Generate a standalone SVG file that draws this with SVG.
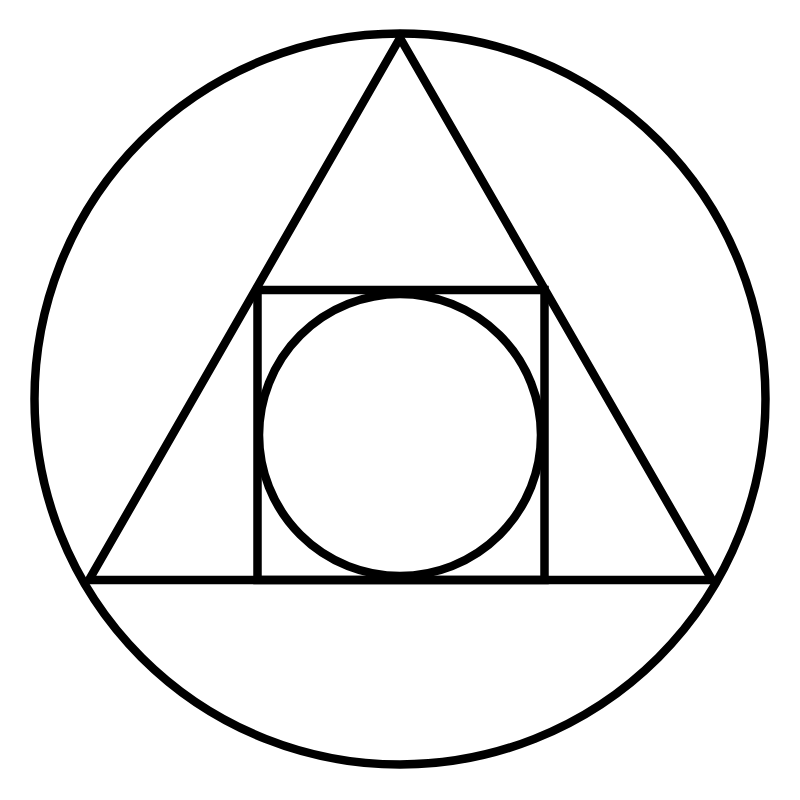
<svg xmlns="http://www.w3.org/2000/svg" width="800" height="800" viewBox="0 0 800 800">
<style>.s{fill:none;stroke:#000;stroke-width:8.5;stroke-linejoin:miter}</style>
<rect width="800" height="800" fill="#fff"/>
<g id="outer-circle"><circle class="s" cx="400" cy="399" r="365.5"/></g>
<g id="triangle"><polygon class="s" points="400,38 89,580 712,580"/></g>
<g id="square"><rect class="s" x="257.5" y="290" width="287" height="290"/></g>
<g id="inner-circle"><circle class="s" cx="400" cy="435" r="141"/></g>
</svg>
